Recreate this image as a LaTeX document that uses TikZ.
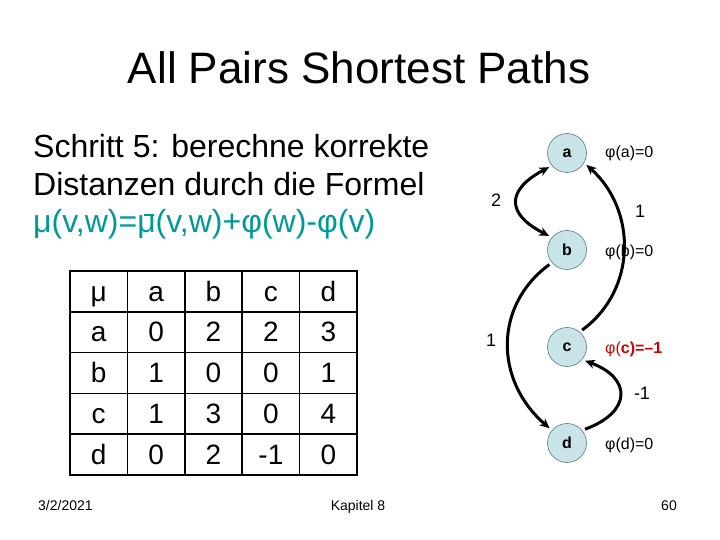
\documentclass[tikz,border=0pt]{standalone}
\usepackage{fontspec}
\setmainfont{Liberation Sans}
\usetikzlibrary{arrows.meta}
\definecolor{tealf}{RGB}{0,153,153}
\definecolor{nodefill}{RGB}{200,228,232}
\definecolor{nodedraw}{RGB}{90,120,130}
\definecolor{phired}{RGB}{204,0,0}
\newcommand{\mubar}{\makebox[0pt][l]{\hspace{0.2em}\rule[0.53em]{0.32em}{0.05em}}μ}
\tikzset{
  vert/.style={circle, minimum size=39pt, inner sep=0pt, fill=nodefill, draw=nodedraw, line width=0.6pt, font=\fontsize{16}{16}\selectfont\bfseries},
  edge/.style={line width=3pt, -{Stealth[length=10pt,width=9pt]}, shorten >=3pt, shorten <=3pt},
  wlab/.style={font=\fontsize{18}{18}\selectfont, inner sep=0pt},
  phil/.style={font=\fontsize{16}{16}\selectfont, inner sep=0pt, anchor=base west},
  cell/.style={font=\fontsize{28}{28}\selectfont, inner sep=0pt, anchor=base},
  body/.style={font=\fontsize{32}{32}\selectfont, inner sep=0pt, anchor=base west},
  foot/.style={font=\fontsize{14}{14}\selectfont, inner sep=0pt},
  outer/.style={line width=2.5pt},
  inner/.style={line width=1.75pt}
}
\begin{document}
\begin{tikzpicture}[x=1pt,y=-1pt]
\useasboundingbox (0,0) rectangle (720,540);
% title
\node[font=\fontsize{44}{44}\selectfont, inner sep=0pt, anchor=base] (title) at (359,84) {All Pairs Shortest Paths};
% body text
\node[body] (l1) at (33,158) {Schritt 5: berechne korrekte};
\node[body] (l2) at (33,196) {Distanzen durch die Formel};
\node[body, text=tealf] (l3) at (33,233) {μ(v,w)=\mubar(v,w)+φ(w)-φ(v)};
% table grid
\foreach \i in {1,2,3,4} {
  \draw[inner] ({70+57.4*\i},271) -- ({70+57.4*\i},475);
  \draw[inner] (70,{271+40.8*\i}) -- (357,{271+40.8*\i});
}
\draw[outer] (70,271) rectangle (357,475);
\foreach \row [count=\r from 0] in {{μ,a,b,c,d},{a,0,2,2,3},{b,1,0,0,1},{c,1,3,0,4},{d,0,2,-1,0}} {
  \foreach \cell [count=\c from 0] in \row {
    \node[cell] (t\r\c) at ({98.7+57.4*\c},{301+40.8*\r}) {\cell};
  }
}
% graph
\node[vert] (a) at (567,153) {a};
\node[vert] (b) at (567,250) {b};
\node[vert] (c) at (567,347) {c};
\node[vert] (d) at (567,443) {d};
\draw[edge, {Stealth[length=10pt,width=9pt]}-{Stealth[length=10pt,width=9pt]}] (a.220) .. controls (506,190) and (506,214) .. (b.140);
\draw[edge] (c.50) .. controls (637,290) and (637,210) .. (a.-30);
\draw[edge] (b.220) .. controls (494,305) and (494,380) .. (d.140);
\draw[edge] (d.40) .. controls (632,412) and (632,378) .. (c.-40);
% weights
\node[wlab] (w1) at (496,200) {2};
\node[wlab] (w2) at (640,211) {1};
\node[wlab] (w3) at (491,340) {1};
\node[wlab] (w4) at (642,393) {-1};
% potentials
\node[phil] (pa) at (605,158) {φ(a)=0};
\node[phil] (pb) at (605,256) {φ(b)=0};
\node[phil, text=phired] (pc) at (605,353) {φ(\textbf{c)=–1}};
\node[phil] (pd) at (605,449) {φ(d)=0};
% footer
\node[foot, anchor=base west] (date) at (38,510) {3/2/2021};
\node[foot, anchor=base] (kap) at (358,510) {Kapitel 8};
\node[foot, anchor=base east] (num) at (677,510) {60};
\end{tikzpicture}
\end{document}
